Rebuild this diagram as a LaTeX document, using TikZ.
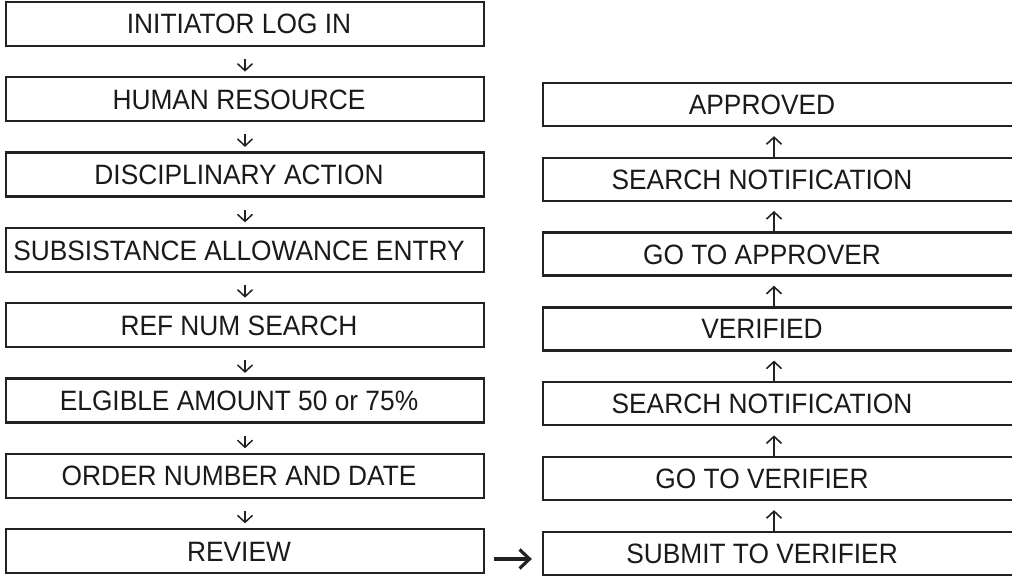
\documentclass[tikz,border=0pt]{standalone}
\usepackage{fontspec}
\setmainfont{Liberation Sans}[FakeStretch=0.94]
\usetikzlibrary{arrows.meta}
\definecolor{boxcol}{HTML}{222222}
\definecolor{txtcol}{HTML}{1A1A1A}
\begin{document}
\begin{tikzpicture}[x=1pt,y=-1pt,
  basebox/.style={draw=boxcol, line width=2.3pt, minimum height=44pt, inner sep=0pt,
    text height=20pt, text depth=0pt, text=txtcol,
    font=\fontsize{28}{32}\selectfont},
  lbox/.style={basebox, minimum width=478pt, execute at end node={\hspace*{12pt}}},
  rbox/.style={basebox, minimum width=487pt, minimum height=43pt, execute at end node={\hspace*{49pt}}},
  darr/.style={draw=boxcol, line width=1.5pt, -{Straight Barb[length=7pt,width=15pt]},
    shorten <=12pt, shorten >=4.5pt},
  uarr/.style={draw=boxcol, line width=1.6pt, -{Straight Barb[length=7pt,width=15pt]},
    shorten <=0pt, shorten >=9pt},
  harr/.style={draw=boxcol, line width=3.2pt, -{Straight Barb[length=10pt,width=19pt]},
    shorten <=9pt, shorten >=10pt}
]
\useasboundingbox (0,0) rectangle (1012,580);

% left column
\node[lbox] (l1) at (245,24)    {INITIATOR LOG IN};
\node[lbox] (l2) at (245,99.3)  {HUMAN RESOURCE};
\node[lbox] (l3) at (245,174.6) {DISCIPLINARY ACTION};
\node[lbox] (l4) at (245,250)   {SUBSISTANCE ALLOWANCE ENTRY};
\node[lbox] (l5) at (245,325.3) {REF NUM SEARCH};
\node[lbox] (l6) at (245,400.6) {ELGIBLE AMOUNT 50 or 75\%};
\node[lbox] (l7) at (245,475.9) {ORDER NUMBER AND DATE};
\node[lbox] (l8) at (245,551)   {REVIEW};

% right column
\node[rbox] (r1) at (786.5,104.5) {APPROVED};
\node[rbox] (r2) at (786.5,179.3) {SEARCH NOTIFICATION};
\node[rbox] (r3) at (786.5,254.1) {GO TO APPROVER};
\node[rbox] (r4) at (786.5,328.9) {VERIFIED};
\node[rbox] (r5) at (786.5,403.7) {SEARCH NOTIFICATION};
\node[rbox] (r6) at (786.5,478.5) {GO TO VERIFIER};
\node[rbox] (r7) at (786.5,553.3) {SUBMIT TO VERIFIER};

% left arrows
\draw[darr] (l1) -- (l2);
\draw[darr] (l2) -- (l3);
\draw[darr] (l3) -- (l4);
\draw[darr] (l4) -- (l5);
\draw[darr] (l5) -- (l6);
\draw[darr] (l6) -- (l7);
\draw[darr] (l7) -- (l8);

% right arrows
\draw[uarr] ([xshift=-12.5pt]r7.north) -- ([xshift=-12.5pt]r6.south);
\draw[uarr] ([xshift=-12.5pt]r6.north) -- ([xshift=-12.5pt]r5.south);
\draw[uarr] ([xshift=-12.5pt]r5.north) -- ([xshift=-12.5pt]r4.south);
\draw[uarr] ([xshift=-12.5pt]r4.north) -- ([xshift=-12.5pt]r3.south);
\draw[uarr] ([xshift=-12.5pt]r3.north) -- ([xshift=-12.5pt]r2.south);
\draw[uarr] ([xshift=-12.5pt]r2.north) -- ([xshift=-12.5pt]r1.south);

% horizontal arrow
\draw[harr] ([yshift=-8pt]l8.east) -- ([yshift=-8pt]l8.east -| r7.west);
\end{tikzpicture}
\end{document}
